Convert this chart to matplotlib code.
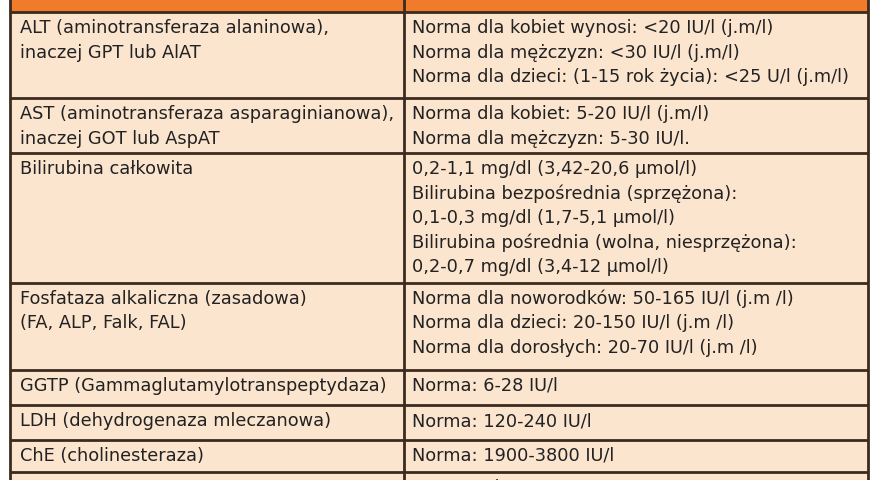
import matplotlib
matplotlib.use("Agg")
import matplotlib.pyplot as plt
from matplotlib.patches import Rectangle

left_col = [
    ["ALT (aminotransferaza alaninowa),", "inaczej GPT lub AlAT"],
    ["AST (aminotransferaza asparaginianowa),", "inaczej GOT lub AspAT"],
    ["Bilirubina całkowita"],
    ["Fosfataza alkaliczna (zasadowa)", "(FA, ALP, Falk, FAL)"],
    ["GGTP (Gammaglutamylotranspeptydaza)"],
    ["LDH (dehydrogenaza mleczanowa)"],
    ["ChE (cholinesteraza)"],
    ["HBsAg"],
]
right_col = [
    ["Norma dla kobiet wynosi: <20 IU/l (j.m/l)", "Norma dla mężczyzn: <30 IU/l (j.m/l)",
     "Norma dla dzieci: (1-15 rok życia): <25 U/l (j.m/l)"],
    ["Norma dla kobiet: 5-20 IU/l (j.m/l)", "Norma dla mężczyzn: 5-30 IU/l."],
    ["0,2-1,1 mg/dl (3,42-20,6 µmol/l)", "Bilirubina bezpośrednia (sprzężona):",
     "0,1-0,3 mg/dl (1,7-5,1 µmol/l)", "Bilirubina pośrednia (wolna, niesprzężona):",
     "0,2-0,7 mg/dl (3,4-12 µmol/l)"],
    ["Norma dla noworodków: 50-165 IU/l (j.m /l)", "Norma dla dzieci: 20-150 IU/l (j.m /l)",
     "Norma dla dorosłych: 20-70 IU/l (j.m /l)"],
    ["Norma: 6-28 IU/l"],
    ["Norma: 120-240 IU/l"],
    ["Norma: 1900-3800 IU/l"],
    ["Norma: ujemny"],
]

row_edges = [12, 98, 153, 283, 370, 405, 440, 472, 520]
x_left, x_mid, x_right = 10, 404, 868
bg = "#FCE5CF"
orange = "#F07B2B"
border = "#3B2A1E"
line_h = 24.5

fig = plt.figure(figsize=(8.8, 4.8), dpi=100)
ax = fig.add_axes([0, 0, 1, 1])
ax.set_xlim(0, 880)
ax.set_ylim(480, 0)
ax.axis("off")
fig.patch.set_facecolor("white")

ax.add_patch(Rectangle((x_left, -5), x_right - x_left, 495, facecolor=bg, edgecolor="none"))
ax.add_patch(Rectangle((x_left, -5), x_right - x_left, row_edges[0] + 5, facecolor=orange, edgecolor="none"))

for y in row_edges[:-1]:
    ax.plot([x_left, x_right], [y, y], color=border, lw=2, solid_capstyle="butt")
for x in (x_left, x_mid, x_right):
    ax.plot([x, x], [-5, 490], color=border, lw=2)

font = dict(family=["DejaVu Sans"], fontsize=12.8, color="#222222")
for i, (lt, rt) in enumerate(zip(left_col, right_col)):
    top = row_edges[i] + 7
    for j, s in enumerate(lt):
        t = ax.text(x_left + 10, top + j * line_h, s, va="top", ha="left", **font)
        t.set_clip_on(True)
    for j, s in enumerate(rt):
        t = ax.text(x_mid + 8, top + j * line_h, s, va="top", ha="left", **font)
        t.set_clip_on(True)

fig.savefig("out.png", dpi=100)
